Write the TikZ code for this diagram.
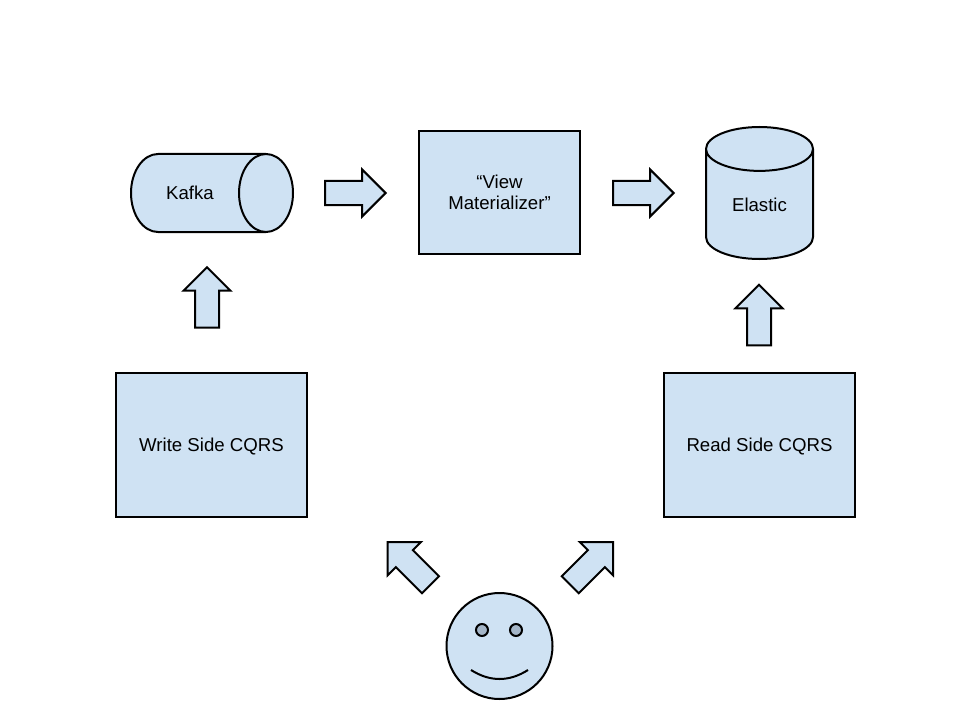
\documentclass[tikz,border=0pt]{standalone}
\usepackage{fontspec}
\setmainfont{Liberation Sans}
\usetikzlibrary{shapes.geometric,shapes.arrows}
\definecolor{boxblue}{HTML}{CFE2F3}
\definecolor{eyegrey}{HTML}{A5B6C8}

\begin{document}
\begin{tikzpicture}[
  x=0.2mm,
  y=-0.2mm,
  every node/.style={font=\fontsize{10.6}{12}\selectfont,align=center},
  stage/.style={
    draw,
    line width=0.4mm,
    fill=boxblue,
    inner sep=0pt,
    text depth=0pt
  },
  store/.style={
    stage,
    cylinder,
    anchor=shape center,
    outer sep=0pt
  },
  flow/.style={
    stage,
    single arrow,
    anchor=tip,
    outer sep=0pt,
    minimum height=12.1mm,
    inner xsep=0pt,
    inner ysep=2.2mm,
    single arrow head extend=2.3mm,
    single arrow tip angle=90
  }
]
  \useasboundingbox (0,0) rectangle (960,720);

  \node[store,aspect=4,minimum width=15.6mm,minimum height=32.4mm] (kafka) at (212,193) {Kafka\hspace*{3.2mm}};
  \node[stage,minimum width=32.2mm,minimum height=24.6mm] (view) at (499.5,192.5) {“View\\Materializer”};
  \node[store,shape border rotate=90,aspect=0.8,minimum width=21.4mm,minimum height=26.4mm] (elastic) at (759.5,193) {Elastic};
  \node[stage,minimum width=38.2mm,minimum height=28.8mm] (write) at (211.5,445) {Write Side CQRS};
  \node[stage,minimum width=38.2mm,minimum height=28.8mm] (read) at (759.5,445) {Read Side CQRS};

  \node[flow] (kafka2view) at (385.6,193) {};
  \node[flow] (view2elastic) at (673.6,193) {};
  \node[flow,rotate=90] (write2kafka) at (207,267.2) {};
  \node[flow,rotate=90] (read2elastic) at (759,284.8) {};
  \node[flow,rotate=135] (user2write) at (387.7,542) {};
  \node[flow,rotate=45] (user2read) at (613,542) {};

  \node[stage,circle,minimum size=21.2mm] (user) at (499.5,646) {};
  \node[stage,circle,fill=eyegrey,minimum size=2.4mm] (lefteye) at (482,630) {};
  \node[stage,circle,fill=eyegrey,minimum size=2.4mm] (righteye) at (516,630) {};
  \coordinate (smileleft) at (471,670);
  \coordinate (smileright) at (528,670);
  \draw[line width=0.4mm] (smileleft) .. controls (490,682) and (509,682) .. (smileright);
\end{tikzpicture}
\end{document}
